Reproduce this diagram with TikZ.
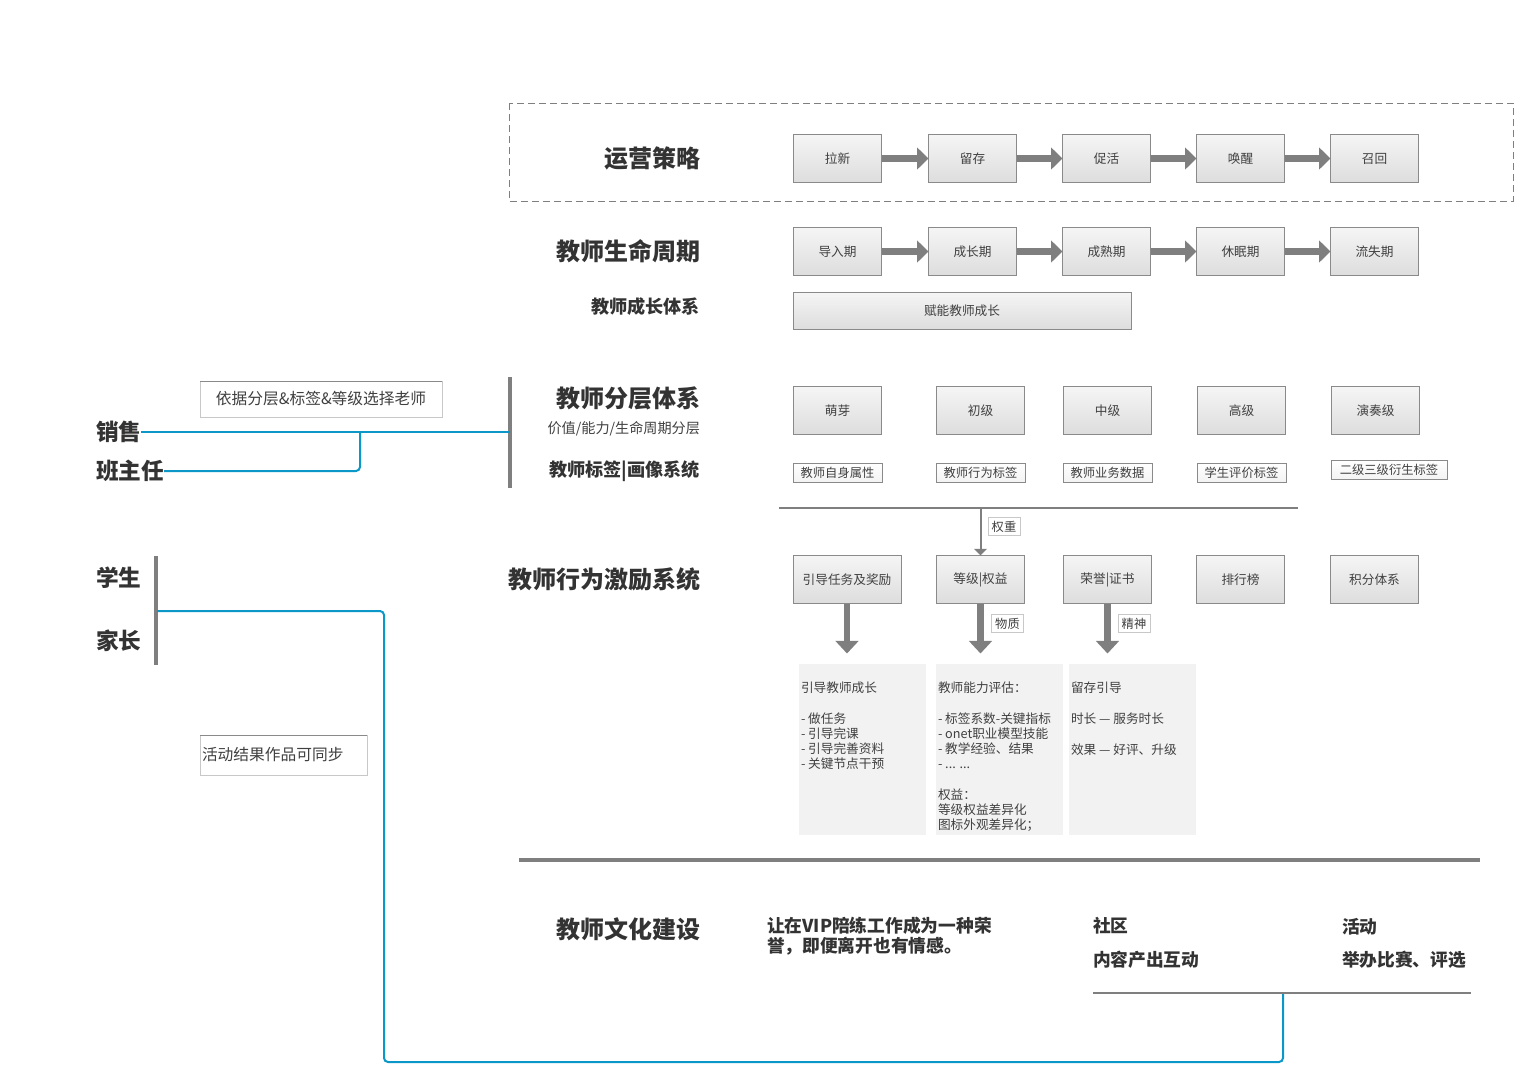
\documentclass[tikz,border=0pt]{standalone}
\usepackage{fontspec}
\setmainfont{Noto Sans CJK SC}
\usetikzlibrary{arrows.meta,calc}
\definecolor{boxtop}{HTML}{F5F5F5}
\definecolor{boxbot}{HTML}{DDDDDD}
\definecolor{boxline}{HTML}{8A8A8A}
\definecolor{txt}{HTML}{404040}
\definecolor{ttlc}{HTML}{333333}
\definecolor{lnk}{HTML}{0B97C7}
\definecolor{barc}{HTML}{7F7F7F}
\definecolor{panelbg}{HTML}{F2F2F2}
\definecolor{lightline}{HTML}{C8C8C8}
\begin{document}
\begin{tikzpicture}[x=0.75pt,y=-0.75pt,
  every node/.style={inner sep=0pt, outer sep=0pt},
  box/.style={draw=boxline, line width=0.75pt, top color=boxtop, bottom color=boxbot,
    minimum width=66pt, minimum height=36pt, text=txt, font=\fontsize{9.5}{11}\selectfont},
  tagbox/.style={draw=boxline, line width=0.75pt, top color=white, bottom color=boxtop!90!boxbot,
    minimum width=66.75pt, minimum height=14.25pt, text=txt, font=\fontsize{9.2}{11}\selectfont},
  smalltag/.style={draw=lightline, line width=0.75pt, fill=white, minimum width=24pt,
    minimum height=14pt, text=txt, font=\fontsize{9.2}{11}\selectfont},
  ttl/.style={anchor=east, text=ttlc, font=\bfseries\fontsize{18}{20}\selectfont},
  ttlsmall/.style={anchor=east, text=ttlc, font=\bfseries\fontsize{13.6}{15}\selectfont},
  subttl/.style={anchor=east, text=txt, font=\fontsize{10.6}{13}\selectfont},
  lbl/.style={anchor=west, text=ttlc, font=\bfseries\fontsize{17}{19}\selectfont},
  btxt/.style={anchor=west, align=left, text=ttlc, font=\bfseries\fontsize{13.3}{15}\selectfont},
  ptext/.style={anchor=north west, align=left, text=txt, font=\fontsize{9.5}{11.25}\selectfont},
  panel/.style={fill=panelbg, minimum width=95.25pt, minimum height=128.25pt},
  harrow/.style={draw=barc, line width=5pt, -{Triangle[width=16pt,length=8.5pt]}},
  varrow/.style={draw=barc, line width=5pt, -{Triangle[width=17pt,length=9.5pt]}, shorten >=7.5pt},
  thinarrow/.style={draw=barc, line width=1.5pt, -{Triangle[width=9.5pt,length=5pt]}},
  grayline/.style={draw=barc, line width=1.5pt},
  thickline/.style={draw=barc, line width=3.4pt},
  vbar/.style={draw=barc, line width=3pt},
  link/.style={draw=lnk, line width=1.5pt, rounded corners=3pt},
  dashframe/.style={draw=barc, line width=0.75pt, dash pattern=on 5.25pt off 3pt},
  notebox/.style={draw=lightline, line width=0.75pt, fill=white, text=txt,
    font=\fontsize{11.8}{14}\selectfont}
]
\useasboundingbox (0,0) rectangle (1514,1065);

% ---------- dashed frame ----------
\draw[dashframe] (509,103) rectangle (1513,201);

% ---------- titles ----------
\node[ttl] (t1) at (700,158) {运营策略};
\node[ttl] (t2) at (700,251) {教师生命周期};
\node[ttlsmall] (t3) at (700,307) {教师成长体系};
\node[ttl] (t4) at (700,398) {教师分层体系};
\node[subttl] (t5) at (700,429) {价值/能力/生命周期分层};
\node[ttlsmall] (t6) at (700,471) {教师标签|画像系统};
\node[ttl] (t7) at (700,579) {教师行为激励系统};
\node[ttl] (t8) at (700,929) {教师文化建设};

% ---------- row 1: 运营策略 ----------
\node[box] (a1) at (837.5,158.5) {拉新};
\node[box] (a2) at (972.5,158.5) {留存};
\node[box] (a3) at (1106.5,158.5) {促活};
\node[box] (a4) at (1240.5,158.5) {唤醒};
\node[box] (a5) at (1374.5,158.5) {召回};
\draw[harrow] (a1.east) -- (a2.west);
\draw[harrow] (a2.east) -- (a3.west);
\draw[harrow] (a3.east) -- (a4.west);
\draw[harrow] (a4.east) -- (a5.west);

% ---------- row 2: 生命周期 ----------
\node[box] (b1) at (837.5,251.5) {导入期};
\node[box] (b2) at (972.5,251.5) {成长期};
\node[box] (b3) at (1106.5,251.5) {成熟期};
\node[box] (b4) at (1240.5,251.5) {休眠期};
\node[box] (b5) at (1374.5,251.5) {流失期};
\draw[harrow] (b1.east) -- (b2.west);
\draw[harrow] (b2.east) -- (b3.west);
\draw[harrow] (b3.east) -- (b4.west);
\draw[harrow] (b4.east) -- (b5.west);

% ---------- 成长体系 ----------
\node[box, minimum width=253.5pt, minimum height=27.75pt] (c1) at (962,311) {赋能教师成长};

% ---------- 分层体系 ----------
\node[box] (d1) at (837.5,410.5) {萌芽};
\node[box] (d2) at (980.5,410.5) {初级};
\node[box] (d3) at (1107.5,410.5) {中级};
\node[box] (d4) at (1241.5,410.5) {高级};
\node[box] (d5) at (1375.5,410.5) {演奏级};

% ---------- tags ----------
\node[tagbox] (e1) at (837.5,472.5) {教师自身属性};
\node[tagbox] (e2) at (980.5,472.5) {教师行为标签};
\node[tagbox] (e3) at (1107.5,472.5) {教师业务数据};
\node[tagbox] (e4) at (1241.5,472.5) {学生评价标签};
\node[tagbox, minimum width=87pt] (e5) at (1389,470) {二级三级衍生标签};

% ---------- weight line ----------
\coordinate (hl1) at (779,508);
\coordinate (hl2) at (1298,508);
\coordinate (hlm) at (980.5,508);
\draw[grayline] (hl1) -- (hl2);

% ---------- 激励系统 ----------
\node[box, minimum width=81pt] (f1) at (847,579.5) {引导任务及奖励};
\node[box] (f2) at (980.5,579.5) {等级|权益};
\node[box] (f3) at (1107.5,579.5) {荣誉|证书};
\node[box] (f4) at (1240.5,579.5) {排行榜};
\node[box] (f5) at (1374.5,579.5) {积分体系};
\draw[thinarrow] (hlm) -- (f2.north);
\node[smalltag] (w1) at (1004,526.5) {权重};

% ---------- panels ----------
\node[panel] (p1) at (862.5,749) {};
\node[panel] (p2) at (999.5,749) {};
\node[panel] (p3) at (1132.5,749) {};
\draw[varrow] (f1.south) -- (f1.south |- p1.north);
\draw[varrow] (f2.south) -- (f2.south |- p2.north);
\draw[varrow] (f3.south) -- (f3.south |- p3.north);
\node[smalltag] (g1) at (1007.5,623.5) {物质};
\node[smalltag] (g2) at (1134,623.5) {精神};

\node[ptext] (q1) at (801,682) {引导教师成长\\[12pt]- 做任务\\- 引导完课\\- 引导完善资料\\- 关键节点干预};
\node[ptext] (q2) at (938,682) {教师能力评估：\\[12pt]- 标签系数-关键指标\\- onet职业模型技能\\- 教学经验、结果\\- ... ...\\[12pt]权益：\\等级权益差异化\\图标外观差异化；};
\node[ptext] (q3) at (1071,682) {留存引导\\[12pt]时长 — 服务时长\\[12pt]效果 — 好评、升级};

% ---------- left: 销售 / 班主任 ----------
\draw[vbar] (510,377) -- (510,488);
\coordinate (j0) at (510,433);
\coordinate (j1) at (360,433);
\node[lbl] (s1) at (96,432) {销售};
\node[lbl] (s2) at (96,471) {班主任};
\draw[link] (s1.east) -- (s1.east -| j0);
\draw[link] (s2.east) -| (j1);
\node[notebox, minimum width=181.5pt, minimum height=27pt] (n1) at (321,399) {依据分层\&标签\&等级选择老师};
\draw[draw=boxline, line width=0.75pt] (n1.north west) -- (n1.north east);

% ---------- left: 学生 / 家长 ----------
\node[lbl] (s3) at (96,578) {学生};
\node[lbl] (s4) at (96,641) {家长};
\draw[vbar] (156,556) -- (156,665);
\node[notebox, anchor=west, minimum height=30pt, text width=122.25pt, inner xsep=1.5pt, align=left] (n2) at (200,755) {活动结果作品可同步};
\draw[draw=boxline, line width=0.75pt] (n2.north west) -- (n2.north east);

% ---------- culture ----------
\draw[thickline] (519,860) -- (1480,860);
\node[btxt] (u1) at (767,936) {让在VIP陪练工作成为一种荣\\誉，即便离开也有情感。};
\node[btxt] (u2) at (1093,926) {社区};
\node[btxt] (u3) at (1093,960) {内容产出互动};
\node[btxt] (u4) at (1342,927) {活动};
\node[btxt] (u5) at (1342,960) {举办比赛、评选};
\coordinate (k1) at (1093,993);
\coordinate (k2) at (1471,993);
\draw[grayline] (k1) -- (k2);

% ---------- blue loop ----------
\coordinate (j2) at (157,611);
\coordinate (j3) at (1283,994);
\coordinate (j4) at (384,1062);
\draw[link] (j3) |- (j4) |- (j2);
\end{tikzpicture}
\end{document}
